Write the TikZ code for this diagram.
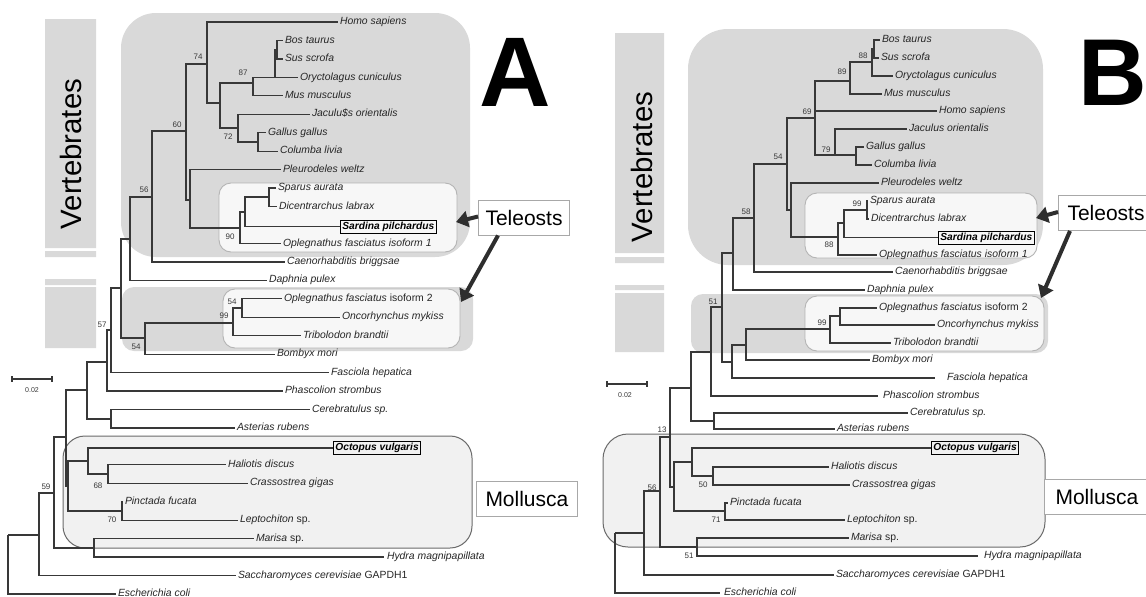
\documentclass[tikz,border=0pt]{standalone}
\usepackage{fontspec}
\setmainfont{Liberation Sans}
\usetikzlibrary{arrows.meta}
\definecolor{treec}{HTML}{383838}
\definecolor{vgray}{HTML}{D9D9D9}
\definecolor{tfill}{HTML}{F7F7F7}
\definecolor{tdraw}{HTML}{B4B4B4}
\definecolor{mfill}{HTML}{F1F1F1}
\definecolor{mdraw}{HTML}{6A6A6A}
\definecolor{lbd}{HTML}{A8A8A8}
\definecolor{arrc}{HTML}{2E2E2E}
\newcommand{\lfnt}{\fontsize{10.4}{12}\selectfont\itshape}
\newcommand{\blfnt}{\fontsize{10.2}{12}\selectfont\bfseries\itshape}
\newcommand{\spfnt}{\fontsize{8}{9}\selectfont}
\newcommand{\lbfnt}{\fontsize{21}{24}\selectfont}
\newcommand{\vfnt}{\fontsize{29.4}{32}\selectfont}
\newcommand{\bigfnt}{\fontsize{99}{99}\selectfont\bfseries}
\newcommand{\bigfntb}{\fontsize{95}{95}\selectfont\bfseries}
\begin{document}
\begin{tikzpicture}[x=1pt,y=-1pt,
  br/.style={draw=treec,line width=1.2pt},
  leaf/.style={anchor=west,inner xsep=2pt,inner ysep=0pt,outer sep=0pt,font=\lfnt,text height=7.5pt,text depth=2.2pt,text=black!85},
  bleaf/.style={anchor=west,draw=black,line width=0.8pt,inner xsep=2pt,inner ysep=1.6pt,font=\blfnt,text height=7.5pt,text depth=2.2pt},
  sup/.style={font=\spfnt,text=treec,inner sep=0pt},
  lbox/.style={anchor=west,draw=lbd,line width=1pt,fill=white,font=\lbfnt,minimum height=35pt,inner ysep=0pt},
  bigarr/.style={draw=arrc,line width=4pt,-{Triangle[length=12pt,width=16pt]}},
  tbox/.style={fill=tfill,draw=tdraw,line width=0.9pt,rounded corners=12pt},
  mbox/.style={fill=mfill,draw=mdraw,line width=1pt,rounded corners=22pt},
  sbar/.style={draw=treec,line width=1.2pt}]
\useasboundingbox (0,0) rectangle (1146,597);
\fill[white] (0,0) rectangle (1146,597);

% ---------- vertebrate bars ----------
\fill[vgray] (45,19) rectangle (96,248) (45,251) rectangle (96,257) (45,279) rectangle (96,285) (45,287) rectangle (96,348);
\fill[vgray] (615,33) rectangle (664,253) (615,257) rectangle (664,263) (615,285) rectangle (664,290) (615,293) rectangle (664,352);
\node[rotate=90,font=\vfnt,inner sep=0pt] (vertA) at (71,154) {Vertebrates};
\node[rotate=90,font=\vfnt,inner sep=0pt] (vertB) at (642,167) {Vertebrates};

% ---------- group boxes A ----------
\fill[vgray,rounded corners=35pt] (121,13) rectangle (470,257);
\draw[tbox] (219,183) rectangle (457,252);
\fill[vgray,rounded corners=12pt] (122,287) rectangle (473,351);
\draw[tbox] (223,289) rectangle (460,348);
\draw[mbox] (63,436) rectangle (472,548);
% ---------- group boxes B ----------
\fill[vgray,rounded corners=40pt] (688,29) rectangle (1043,265);
\draw[tbox] (805,193) rectangle (1037,258);
\fill[vgray,rounded corners=12pt] (691,294) rectangle (1048,353);
\draw[tbox] (805,296) rectangle (1044,351);
\draw[mbox,rounded corners=25pt] (603,434) rectangle (1045,547);

% ---------- panel letters ----------
\node[font=\bigfnt,inner sep=0pt] (lblA) at (515,72) {A};
\node[font=\bigfntb,inner sep=0pt] (lblB) at (1113,73) {B};

% ---------- scale bars ----------
\draw[sbar] (12,379) -- (52,379) (12,376) -- (12,382) (52,376) -- (52,382);
\node[font=\fontsize{7}{8}\selectfont,text=treec] (sA) at (32,390) {0.02};
\draw[sbar] (607,384) -- (647,384) (607,381) -- (607,387) (647,381) -- (647,387);
\node[font=\fontsize{7}{8}\selectfont,text=treec] (sB) at (625,395) {0.02};

% ================= TREE A =================
\coordinate (aR) at (8,535);
\coordinate (a39) at (39,535);
\coordinate (a54) at (54,493);
\coordinate (a66) at (66,437);
\coordinate (aM) at (68,486);
\coordinate (aOct) at (88,461);
\coordinate (aHal) at (108,474);
\coordinate (aPin) at (122,511);
\coordinate (aMH) at (94,548);
\coordinate (a87) at (87,390);
\coordinate (aCA) at (111,419);
\coordinate (a107) at (107,362);
\coordinate (a111) at (111,330);
\coordinate (a120) at (121,288);
\coordinate (a145) at (145,338);
\coordinate (a233) at (233,323);
\coordinate (a242) at (242,308);
\coordinate (a130) at (130,239);
\coordinate (a152) at (152,197);
\coordinate (a186) at (186,131);
\coordinate (a207) at (207,64);
\coordinate (a220) at (220,103);
\coordinate (a253) at (253,83);
\coordinate (aBSO) at (275,77.4);
\coordinate (aBS) at (277,50);
\coordinate (a238) at (238,128);
\coordinate (aGC) at (258,142);
\coordinate (a190) at (190,200);
\coordinate (a240) at (240,228);
\coordinate (aT1) at (245,212);
\coordinate (aSD) at (269,197);

\node[leaf] (aHomo) at (338,22) {Homo sapiens};
\node[leaf] (aBos) at (283,40.5) {Bos taurus};
\node[leaf] (aSus) at (283,59) {Sus scrofa};
\node[leaf] (aOry) at (298,77.4) {Oryctolagus cuniculus};
\node[leaf] (aMus) at (283,95.8) {Mus musculus};
\node[leaf] (aJac) at (310,114.3) {Jaculu\$s orientalis};
\node[leaf] (aGal) at (266,132.7) {Gallus gallus};
\node[leaf] (aCol) at (278,151.2) {Columba livia};
\node[leaf] (aPle) at (281,169.6) {Pleurodeles weltz};
\node[leaf] (aSpa) at (276,188) {Sparus aurata};
\node[leaf] (aDic) at (277,206.5) {Dicentrarchus labrax};
\node[bleaf] (aSar) at (340,226.5) {Sardina pilchardus};
\node[leaf] (aOp1) at (281,243.4) {Oplegnathus fasciatus isoform 1};
\node[leaf] (aCae) at (285,261.9) {Caenorhabditis briggsae};
\node[leaf] (aDap) at (267,280.3) {Daphnia pulex};
\node[leaf] (aOp2) at (282,298.8) {Oplegnathus fasciatus {\upshape isoform 2}};
\node[leaf] (aOnc) at (340,317.2) {Oncorhynchus mykiss};
\node[leaf] (aTri) at (301,335.7) {Tribolodon brandtii};
\node[leaf] (aBom) at (275,354.1) {Bombyx mori};
\node[leaf] (aFas) at (329,372.6) {Fasciola hepatica};
\node[leaf] (aPha) at (283,391) {Phascolion strombus};
\node[leaf] (aCer) at (310,409.5) {Cerebratulus sp.};
\node[leaf] (aAst) at (235,427.9) {Asterias rubens};
\node[bleaf] (aOcv) at (333,448) {Octopus vulgaris};
\node[leaf] (aHad) at (226,464.8) {Haliotis discus};
\node[leaf] (aCra) at (248,483.3) {Crassostrea gigas};
\node[leaf] (aPfu) at (123,501.7) {Pinctada fucata};
\node[leaf] (aLep) at (238,520.2) {Leptochiton {\upshape sp.}};
\node[leaf] (aMar) at (254,538.6) {Marisa {\upshape sp.}};
\node[leaf] (aHyd) at (384,557) {\hspace{1pt}Hydra magnipapillata};
\node[leaf] (aSac) at (236,575.5) {Saccharomyces cerevisiae {\upshape GAPDH1}};
\node[leaf] (aEco) at (116,594) {Escherichia coli};

\foreach \p/\c in {aR/a39,aR/aEco,a39/a54,a39/aSac,a54/a66,a54/aMH,a66/a87,a66/aM,
  aM/aOct,aM/aPin,aOct/aOcv,aOct/aHal,aHal/aHad,aHal/aCra,aPin/aPfu,aPin/aLep,
  aMH/aMar,aMH/aHyd,a87/a107,a87/aCA,aCA/aCer,aCA/aAst,a107/a111,a107/aPha,
  a111/a120,a111/aFas,a120/a130,a120/a145,a145/a233,a145/aBom,a233/a242,a233/aTri,
  a242/aOp2,a242/aOnc,a130/a152,a130/aDap,a152/a186,a152/aCae,a186/a207,a186/a190,
  a207/aHomo,a207/a220,a220/a253,a220/a238,a253/aBSO,a253/aMus,aBSO/aBS,aBSO/aOry,
  aBS/aBos,aBS/aSus,a238/aJac,a238/aGC,aGC/aGal,aGC/aCol,a190/aPle,a190/a240,
  a240/aT1,a240/aOp1,aT1/aSD,aT1/aSar,aSD/aSpa,aSD/aDic}
  {\draw[br] (\p) |- (\c);}

\node[sup] (sa1) at (198,57) {74};
\node[sup] (sa2) at (243,73) {87};
\node[sup] (sa3) at (228,137) {72};
\node[sup] (sa4) at (177,125) {60};
\node[sup] (sa5) at (144,190) {56};
\node[sup] (sa6) at (230,237) {90};
\node[sup] (sa7) at (232,302) {54};
\node[sup] (sa8) at (224,316) {99};
\node[sup] (sa9) at (136,347) {54};
\node[sup] (sa10) at (102,325) {57};
\node[sup] (sa11) at (98,486) {68};
\node[sup] (sa12) at (112,520) {70};
\node[sup] (sa13) at (46,487) {59};

% ================= TREE B =================
\coordinate (bR) at (615,533);
\coordinate (b56) at (644,533);
\coordinate (b13) at (660,491);
\coordinate (bMH) at (697,547);
\coordinate (b670) at (670,437);
\coordinate (bMo) at (674,487);
\coordinate (bOc) at (692,462);
\coordinate (bHC) at (713,476);
\coordinate (bPi) at (725,511);
\coordinate (b691) at (691,388);
\coordinate (bCA) at (714,421);
\coordinate (b711) at (711,352);
\coordinate (b722) at (722,307);
\coordinate (b732) at (732,362);
\coordinate (b746) at (746,345);
\coordinate (b99) at (830,329);
\coordinate (b840) at (840,316);
\coordinate (b733) at (733,253);
\coordinate (b58) at (754,218);
\coordinate (b54) at (787,164);
\coordinate (b69) at (815,118);
\coordinate (b89) at (850,81);
\coordinate (bBSO) at (872,62);
\coordinate (bBS) at (874,49);
\coordinate (b79) at (835,155);
\coordinate (bGC) at (856,155);
\coordinate (bPl) at (791,210);
\coordinate (b88) at (838,237);
\coordinate (bT1) at (844,223);
\coordinate (bSD) at (867,210);

\node[leaf] (bBos) at (880,40) {Bos taurus};
\node[leaf] (bSus) at (879,58) {Sus scrofa};
\node[leaf] (bOry) at (893,76) {Oryctolagus cuniculus};
\node[leaf] (bMus) at (882,94) {Mus musculus};
\node[leaf] (bHomo) at (937,111) {Homo sapiens};
\node[leaf] (bJac) at (907,129) {Jaculus orientalis};
\node[leaf] (bGal) at (864,147) {Gallus gallus};
\node[leaf] (bCol) at (872,165) {Columba livia};
\node[leaf] (bPle) at (879,183) {Pleurodeles weltz};
\node[leaf] (bSpa) at (868,201) {Sparus aurata};
\node[leaf] (bDic) at (869,219) {Dicentrarchus labrax};
\node[bleaf] (bSar) at (938,237.5) {Sardina pilchardus};
\node[leaf] (bOp1) at (877,255) {Oplegnathus fasciatus isoform 1};
\node[leaf] (bCae) at (893,272) {Caenorhabditis briggsae};
\node[leaf] (bDap) at (865,290) {Daphnia pulex};
\node[leaf] (bOp2) at (877,308) {Oplegnathus fasciatus {\upshape isoform 2}};
\node[leaf] (bOnc) at (935,325) {Oncorhynchus mykiss};
\node[leaf] (bTri) at (891,343) {Tribolodon brandtii};
\node[leaf] (bBom) at (870,360) {Bombyx mori};
\node[leaf] (bFas) at (935,378) {\hspace{10pt}Fasciola hepatica};
\node[leaf] (bPha) at (878,396) {\hspace{3pt}Phascolion strombus};
\node[leaf] (bCer) at (908,413) {Cerebratulus sp.};
\node[leaf] (bAst) at (835,429) {Asterias rubens};
\node[bleaf] (bOcv) at (931,448) {Octopus vulgaris};
\node[leaf] (bHad) at (829,467) {Haliotis discus};
\node[leaf] (bCra) at (850,485) {Crassostrea gigas};
\node[leaf] (bPfu) at (728,503) {Pinctada fucata};
\node[leaf] (bLep) at (845,520) {Leptochiton {\upshape sp.}};
\node[leaf] (bMar) at (849,538) {Marisa {\upshape sp.}};
\node[leaf] (bHyd) at (978,556) {\hspace{4pt}Hydra magnipapillata};
\node[leaf] (bSac) at (834,575) {Saccharomyces cerevisiae {\upshape GAPDH1}};
\node[leaf] (bEco) at (720,593) {\hspace{2pt}Escherichia coli};

\foreach \p/\c in {bR/b56,bR/bEco,b56/b13,b56/bSac,b13/b670,b13/bMH,bMH/bMar,bMH/bHyd,
  b670/b691,b670/bMo,bMo/bOc,bMo/bPi,bOc/bOcv,bOc/bHC,bHC/bHad,bHC/bCra,bPi/bPfu,bPi/bLep,
  b691/b711,b691/bCA,bCA/bCer,bCA/bAst,b711/b722,b711/bPha,b722/b733,b722/b732,
  b732/b746,b732/bFas,b746/b99,b746/bBom,b99/b840,b99/bTri,b840/bOp2,b840/bOnc,
  b733/b58,b733/bDap,b58/b54,b58/bCae,b54/b69,b54/bPl,b69/b89,b69/bHomo,b69/b79,
  b89/bBSO,b89/bMus,bBSO/bBS,bBSO/bOry,bBS/bBos,bBS/bSus,b79/bJac,b79/bGC,
  bGC/bGal,bGC/bCol,bPl/bPle,bPl/b88,b88/bT1,b88/bOp1,bT1/bSD,bT1/bSar,bSD/bSpa,bSD/bDic}
  {\draw[br] (\p) |- (\c);}

\node[sup] (sb1) at (863,56) {88};
\node[sup] (sb2) at (842,72) {89};
\node[sup] (sb3) at (807,112) {69};
\node[sup] (sb4) at (826,150) {79};
\node[sup] (sb5) at (778,157) {54};
\node[sup] (sb6) at (746,212) {58};
\node[sup] (sb7) at (857,204) {99};
\node[sup] (sb8) at (829,245) {88};
\node[sup] (sb9) at (713,302) {51};
\node[sup] (sb10) at (822,323) {99};
\node[sup] (sb11) at (662,430) {13};
\node[sup] (sb12) at (652,488) {56};
\node[sup] (sb13) at (703,485) {50};
\node[sup] (sb14) at (716,520) {71};
\node[sup] (sb15) at (689,556) {51};

% ---------- label boxes and arrows ----------
\node[lbox,inner xsep=7pt] (telA) at (478,217.5) {Teleosts};
\node[lbox,inner xsep=9pt] (molA) at (476,498.5) {Mollusca};
\node[lbox,inner xsep=9pt] (telB) at (1058,213) {Teleosts};
\node[lbox,inner xsep=11pt] (molB) at (1044,496.5) {Mollusca};
\coordinate (tipA1) at (456,222);
\coordinate (tipA2) at (461,302);
\coordinate (tipB1) at (1036,218);
\coordinate (tipB2) at (1041,298);
\draw[bigarr] ([yshift=1pt]telA.west) -- (tipA1);
\draw[bigarr] ([xshift=20pt]telA.south west) -- (tipA2);
\draw[bigarr] ([yshift=1pt]telB.west) -- (tipB1);
\draw[bigarr] ([xshift=12pt]telB.south west) -- (tipB2);
\end{tikzpicture}
\end{document}
